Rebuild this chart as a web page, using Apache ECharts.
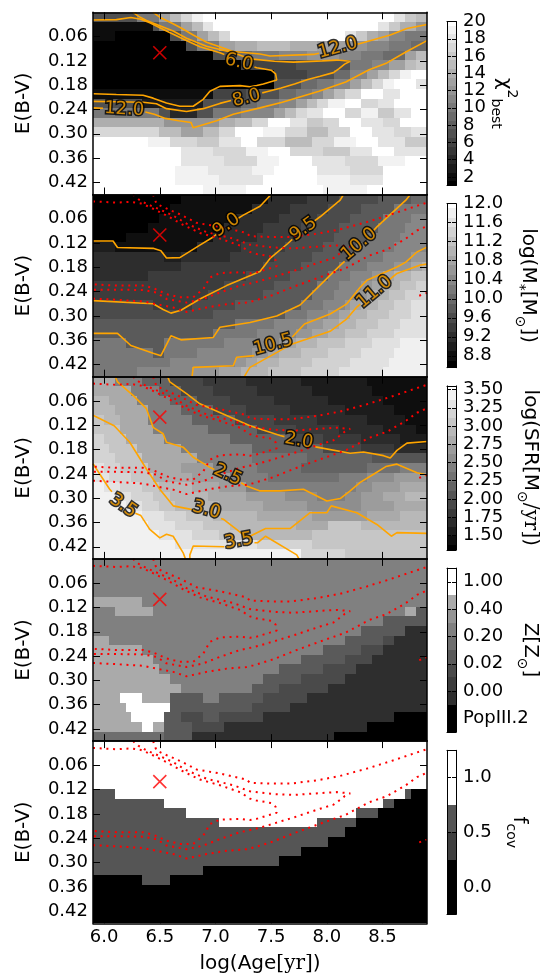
<!DOCTYPE html>
<html><head><meta charset="utf-8">
<script src="https://cdn.jsdelivr.net/npm/echarts@6/dist/echarts.min.js"></script>
<style>html,body{margin:0;padding:0;background:#fff;}#c{width:542px;height:977px;}</style>
</head><body><div id="c"></div>
<script>
// ---------------- data ----------------
const ageTicks = [6.0, 6.5, 7.0, 7.5, 8.0, 8.5];
const ebvTicks = [0.06, 0.12, 0.18, 0.24, 0.30, 0.36, 0.42];
const bestFit = [[6.5, 0.10]];

// chi^2 map: code a..t -> 1..20
const chiCodes = 'abcdefghijklmnopqrst';
const chiRows = [
"g8 j4 m2 o2 q2 s2 t35 r2 p2 o2",
"b11 g1 j4 m2 o2 r2 t30 r2 p2 n3 l2",
"b4 a10 g2 j3 m2 o2 q2 t21 r2 p2 n2 m2 k3 j4",
"a17 g2 j4 m3 n4 o6 n5 m6 l3 k4 j4 i3",
"a22 g3 i4 j5 k5 l6 k4 j4 i4 m2 o2",
"a27 f10 g10 j4 k3 m3 o2 p2",
"a33 f6 g5 i3 k3 m2 o2 q2 s2 t3",
"a33 g5 i3 j3 k3 m2 o2 q2 s2 t4 r2",
"b22 f6 g6 i3 j3 k2 m2 o2 q3 t4 r3 t5",
"g9 c11 g7 i3 j4 k3 m2 o2 q2 s3 t3 q3 r3 t6",
"j12 g2 d5 g3 j5 k6 m2 o2 q2 r3 t4 q3 s3 p3 r3 t3",
"n13 l10 n3 o3 q3 t4 r3 p3 q3 t4 r4 q3 t5",
"q12 o4 m4 o3 q3 t5 s4 q4 o4 q4 t4 r4 q3 r3",
"t10 s4 q5 p4 r4 t3 q5 o5 q4 s4 t4 r5 p4",
"t16 r6 q6 s4 t4 q6 p5 r4 t4 r6",
"t16 r8 q6 s4 t6 r6 q6 s5 t4",
"t15 s6 r8 s4 t8 r6 q6 t8",
"t15 s8 r8 t10 s6 r6 t8",
"t20 s8 t14 s8 t11"];

// log M*: code 0..h -> 8.6 + 0.2*i
const massCodes = '0123456789abcdefgh';
const massRows = [
"016 116 37 46 57 66 73",
"014 115 37 47 56 66 86",
"012 114 38 47 56 66 85 93",
"010 114 37 47 57 67 85 94",
"06 116 38 47 57 66 86 95",
"24 115 38 48 57 66 87 96",
"313 23 39 48 57 67 86 95 a3",
"316 415 57 67 85 95 a3 b2 c1",
"310 418 58 67 84 94 a2 b2 c3 d3",
"424 59 68 84 94 a2 b2 c3 d3 e2",
"421 510 69 84 94 a2 b1 c3 d3 e4",
"511 47 58 612 84 94 a1 b2 c3 d3 e3 f3",
"522 613 84 94 a2 b2 c3 d4 e4 f3",
"626 87 96 a3 b3 c3 d4 e4 f5",
"622 88 97 a3 b3 c3 d4 e5 f6",
"86 67 811 910 a1 b2 c4 d5 e5 f5 g5",
"811 62 86 910 a3 b2 c4 d5 e6 f6 g6",
"814 912 a2 b2 c4 d6 e7 f7 g7",
"88 910 a5 b4 c5 d6 e7 f8 g8"];

// log SFR: code 0..i -> 1.3 + 0.125*i
const sfrCodes = '0123456789abcdefghi';
const sfrRows = [
"c4 95 75 56 48 310 212 111",
"c7 95 74 56 48 310 211 110",
"d3 c5 96 75 56 48 310 210 18",
"d4 c6 96 76 56 48 310 29 16",
"e2 d3 c5 98 78 57 48 39 27 14",
"e5 c6 910 79 57 48 38 26 12",
"f2 e4 c7 912 711 56 47 37 25",
"f3 e5 c8 913 713 57 46 36",
"f4 e5 c10 910 810 712 610",
"g2 f3 e5 c6 b6 98 88 712 86 95",
"g3 f4 e4 c7 b7 97 813 95 a5 b6",
"h2 g3 f4 e3 d6 c5 b5 920 a3 b5 c5",
"h4 g3 f4 e3 d7 c7 b7 a6 95 a3 b4 c4 d4",
"h6 g3 f3 e3 d8 c8 b8 a10 b6 c6",
"h9 g4 f4 e5 d8 c10 b10 c6 d5",
"h10 g5 f5 e5 d12 c6 e6 d12",
"h12 g6 f5 e5 d12 e21",
"h15 g15 f10 e21",
"h38 f8 e15"];

// Z: code -> colour-bar sub-band index (0 = PopIII.2 ... 11 = 1.00)
const zCodeBand = {k:0, g:2, e:4, d:5, n:6, m:7, l:9, w:11};
const zBandColors = ['#000000','#000000','#2e2e2e','#3c3c3c','#4a4a4a','#5a5a5a','#6e6e6e','#808080','#949494','#aaaaaa','#ffffff','#ffffff'];
const zTickLabels = ['PopIII.2','0.00','0.02','0.20','0.40','1.00'];
const zRows = [
"m61","m61","m61","m61",
"l9 m52",
"m4 l7 m46 l2 d2",
"m53 d8",
"m49 d8 g4",
"l3 m43 d7 e2 g6",
"l9 m33 d7 e4 g8",
"l11 m27 d8 e5 g10",
"l12 m22 d8 e6 g13",
"l14 m17 d7 e8 g15",
"l16 m13 d5 e9 g18",
"l5 w4 l5 d6 m3 d8 e8 g22",
"l6 w8 d15 e7 g25",
"l7 w6 d3 e4 d3 e8 g24 k6",
"l9 w2 l2 d5 e6 g26 k11",
"n13 d5 g26 k17"];

// f_cov: 0 -> 0.0, 1 -> 0.5, 2 -> 1.0
const fcovCodeValue = {'0':0.0, '1':0.5, '2':1.0};
const fcovBands = [[-0.25,0.25,'#000000'],[0.25,0.5,'#3f3f3f'],[0.5,0.75,'#555555'],[0.75,1.25,'#ffffff']];
const fcovRows = [
"261","261","261","261","261",
"14 253 11 03",
"113 240 12 06",
"117 231 14 09",
"123 218 17 013",
"146 015",
"143 018",
"138 023",
"134 027",
"120 041",
"09 15 047",
"061","061","061","061"];

// chi^2 contours (red dotted overlays)
const redC12top = [[6.44,0.0],[6.47,0.023],[6.53,0.031],[6.69,0.050],[6.83,0.070],[7.04,0.080],[7.28,0.095],[7.31,0.103],[7.50,0.105],[7.67,0.105],[7.91,0.097],[8.12,0.086],[8.36,0.068],[8.57,0.050],[8.81,0.028],[8.90,0.020]];
const redC12bot = [[5.90,0.257],[6.11,0.260],[6.35,0.264],[6.47,0.271],[6.62,0.279],[6.74,0.290],[6.92,0.279],[7.10,0.271],[7.28,0.267],[7.34,0.263],[7.52,0.248],[7.70,0.228],[7.93,0.205],[8.17,0.182],[8.38,0.151],[8.54,0.136],[8.71,0.109],[8.81,0.089],[8.90,0.078]];
const redC8 = [[6.26,0.0],[6.31,0.012],[6.38,0.023],[6.50,0.037],[6.62,0.052],[6.74,0.072],[6.92,0.093],[7.16,0.109],[7.31,0.124],[7.53,0.131],[7.70,0.133],[7.96,0.128],[8.09,0.126],[8.21,0.129],[8.16,0.136],[8.11,0.147],[8.06,0.157],[7.94,0.167],[7.83,0.177],[7.71,0.188],[7.59,0.198],[7.46,0.209],[7.34,0.218],[7.22,0.225],[7.04,0.242],[6.89,0.258],[6.74,0.267],[6.56,0.258],[6.47,0.242],[6.35,0.236],[6.11,0.235],[5.90,0.235]];
const redC6 = [[5.90,0.017],[6.11,0.020],[6.24,0.018],[6.33,0.022],[6.41,0.031],[6.56,0.052],[6.71,0.075],[6.86,0.095],[7.04,0.109],[7.22,0.126],[7.31,0.142],[7.37,0.147],[7.44,0.150],[7.50,0.153],[7.54,0.162],[7.55,0.177],[7.49,0.182],[7.43,0.187],[7.37,0.192],[7.31,0.195],[7.22,0.192],[7.04,0.194],[6.95,0.205],[6.89,0.234],[6.80,0.254],[6.68,0.254],[6.56,0.246],[6.44,0.231],[6.35,0.225],[6.11,0.225],[5.90,0.222]];
const redEdge = [[8.83,0.250],[8.90,0.243]];

// panel 1 orange chi^2 contours (null = gap under a label)
const chiLines = [
 [[6.44,0.0],[6.50,0.012],[6.61,0.027],[6.70,0.040],[6.80,0.056],[6.92,0.074],[7.16,0.097],[7.40,0.103],[7.49,0.108],[7.88,0.104],[7.93,0.101],null,[8.27,0.079],[8.30,0.077],[8.57,0.056],[8.72,0.040],[8.90,0.030]],
 [[5.90,0.236],[5.99,0.237],null,[6.37,0.246],[6.45,0.252],[6.55,0.262],[6.67,0.268],[6.78,0.272],[6.80,0.285],[6.86,0.280],[7.01,0.268],[7.16,0.252],[7.40,0.236],[7.60,0.222],[7.93,0.195],[8.17,0.172],[8.38,0.142],[8.54,0.125],[8.71,0.098],[8.90,0.070]],
 [[6.26,0.0],[6.31,0.010],[6.38,0.020],[6.50,0.033],[6.62,0.046],[6.74,0.064],[6.92,0.084],[7.16,0.100],[7.31,0.115],[7.53,0.121],[7.70,0.123],[7.96,0.120],[8.09,0.118],[8.21,0.121],[8.16,0.128],[8.11,0.139],[8.06,0.149],[7.94,0.158],[7.83,0.166],[7.71,0.177],[7.59,0.187],[7.46,0.196],[7.42,0.199],null,[7.14,0.218],[7.04,0.225],[6.89,0.238],[6.74,0.245],[6.56,0.238],[6.47,0.226],[6.35,0.222],[6.11,0.221],[5.90,0.220]],
 [[5.90,0.019],[6.11,0.018],[6.24,0.013],[6.33,0.017],[6.41,0.026],[6.56,0.046],[6.71,0.066],[6.86,0.085],[7.04,0.100],[7.08,0.104],null,[7.35,0.135],[7.37,0.137],[7.44,0.140],[7.50,0.143],[7.54,0.152],[7.55,0.167],[7.49,0.172],[7.43,0.177],[7.37,0.181],[7.31,0.184],[7.22,0.181],[7.04,0.183],[6.95,0.195],[6.89,0.215],[6.80,0.232],[6.68,0.232],[6.56,0.224],[6.44,0.212],[6.35,0.205],[6.11,0.203],[5.90,0.201]]
];
const chiLabels = [[7.21,0.124,'6.0',-12],[7.28,0.212,'8.0',15],[6.18,0.240,'12.0',-3],[8.10,0.088,'12.0',15]];

// panel 2 orange mass contours
const massLines = [
 [[5.90,0.115],[6.08,0.115],[6.12,0.131],[6.44,0.133],[6.51,0.139],[6.56,0.157],[6.68,0.156],[6.86,0.125],[6.98,0.105],[7.01,0.098],null,[7.19,0.061],[7.25,0.051],[7.40,0.029],[7.50,0.0]],
 [[5.90,0.262],[6.44,0.270],[6.53,0.284],[6.60,0.293],[6.69,0.286],[6.86,0.258],[7.10,0.225],[7.40,0.190],[7.49,0.158],[7.65,0.121],[7.69,0.111],null,[7.89,0.065],[7.94,0.055],[8.12,0.014],[8.15,0.0]],
 [[5.90,0.343],[6.12,0.343],[6.24,0.373],[6.44,0.392],[6.51,0.398],[6.60,0.349],[6.69,0.359],[6.98,0.353],[7.04,0.328],[7.31,0.316],[7.55,0.300],[7.76,0.273],[7.91,0.232],[8.12,0.175],[8.16,0.165],null,[8.42,0.089],[8.45,0.080],[8.71,0.014],[8.75,0.0]],
 [[6.79,0.45],[6.80,0.427],[7.16,0.423],[7.19,0.402],[7.35,0.398],null,[7.69,0.352],[7.80,0.320],[8.03,0.295],[8.18,0.270],[8.30,0.229],[8.36,0.212],[8.63,0.179],[8.71,0.167],[8.81,0.142],[8.90,0.130]],
 [[7.26,0.45],[7.28,0.440],[7.31,0.427],[7.69,0.369],[8.03,0.338],[8.18,0.307],[8.27,0.278],[8.30,0.271],null,[8.56,0.211],[8.63,0.195],[8.84,0.174],[8.90,0.172]]
];
const massLabels = [[7.10,0.076,'9.0',35],[7.79,0.086,'9.5',35],[8.29,0.123,'10.0',40],[7.52,0.371,'10.5',15],[8.43,0.241,'11.0',40]];

// panel 3 orange SFR contours
const sfrLines = [
 [[6.57,0.0],[6.59,0.013],[6.74,0.042],[6.86,0.067],[7.10,0.096],[7.31,0.121],[7.58,0.145],[7.62,0.148],null,[7.89,0.172],[7.91,0.174],[8.21,0.189],[8.33,0.186],[8.51,0.195],[8.57,0.201],[8.63,0.182],[8.72,0.164],[8.90,0.160]],
 [[6.10,0.0],[6.12,0.013],[6.26,0.046],[6.38,0.079],[6.44,0.125],[6.53,0.141],[6.56,0.162],[6.71,0.174],[6.80,0.199],[6.95,0.224],[6.99,0.229],null,[7.23,0.262],[7.28,0.270],[7.40,0.282],[7.58,0.282],[7.79,0.278],[8.00,0.307],[8.12,0.301],[8.21,0.282],[8.30,0.261],[8.42,0.241],[8.53,0.222],[8.63,0.216],[8.81,0.237],[8.90,0.243]],
 [[5.90,0.095],[6.09,0.121],[6.23,0.162],[6.38,0.228],[6.50,0.278],[6.62,0.319],[6.77,0.327],[6.79,0.328],null,[7.05,0.350],[7.07,0.352],[7.25,0.390],[7.31,0.394],[7.45,0.375],[7.67,0.375],[7.85,0.336],[8.00,0.336],[8.04,0.319],[8.27,0.336],[8.45,0.365],[8.58,0.394],[8.63,0.385],[8.90,0.387]],
 [[5.90,0.215],[6.05,0.278],[6.07,0.284],null,[6.28,0.337],[6.33,0.343],[6.41,0.377],[6.50,0.398],[6.56,0.389],[6.62,0.394],[6.71,0.435],[6.73,0.45]],
 [[6.77,0.45],[6.77,0.440],[6.80,0.418],[7.08,0.420],null,[7.35,0.410],[7.38,0.410],[7.45,0.394],[7.73,0.440],[7.75,0.45]]
];
const sfrLabels = [[7.75,0.158,'2.0',-10],[7.11,0.243,'2.5',-25],[6.92,0.329,'3.0',-15],[6.17,0.319,'3.5',-35],[7.21,0.406,'3.5',10]];

// ---------------- layout / helpers ----------------
const AGE_MIN = 5.9, AGE_MAX = 8.9, EBV_MIN = 0, EBV_MAX = 0.45, NCOL = 61;
const FONT = 'DejaVu Sans';
const P_LEFT = 93, P_W = 334, P_TOP0 = 12.3, P_H = 182.2;
const pTop = i => P_TOP0 + P_H * i;
const CB_LEFT = 447, CB_W = 9, CB_H = 164, CB_OFF = 9.2;

function gray(t){ t = Math.max(0, Math.min(1, t)); const v = Math.round(t*255); const h = v.toString(16).padStart(2,'0'); return '#'+h+h+h; }
function decodeRows(rows){
  return rows.map(r => { let s=''; r.trim().split(/\s+/).forEach(t => { s += t[0].repeat(parseInt(t.slice(1),10)); });
    if (s.length < NCOL) s += s[s.length-1].repeat(NCOL - s.length); return s.slice(0, NCOL); });
}
function buildRuns(rows, colorOf){
  const g = decodeRows(rows), data = [], colors = [];
  const cw = (AGE_MAX-AGE_MIN)/NCOL, rh = (EBV_MAX-EBV_MIN)/g.length;
  g.forEach((s, j) => { let k = 0; while (k < s.length) { let e = k; while (e+1 < s.length && s[e+1] === s[k]) e++;
    data.push([AGE_MIN+k*cw, EBV_MIN+j*rh, AGE_MIN+(e+1)*cw, EBV_MIN+(j+1)*rh]); colors.push(colorOf(s[k])); k = e+1; } });
  return {data, colors};
}
function rectRender(colors){
  return function(params, api){
    const p0 = api.coord([api.value(0), api.value(1)]), p1 = api.coord([api.value(2), api.value(3)]);
    const x0 = Math.round(Math.min(p0[0],p1[0])), x1 = Math.round(Math.max(p0[0],p1[0]));
    const y0 = Math.round(Math.min(p0[1],p1[1])), y1 = Math.round(Math.max(p0[1],p1[1]));
    return {type:'rect', shape:{x:x0, y:y0, width:x1-x0, height:y1-y0}, style:{fill:colors[params.dataIndex]}};
  };
}
function splitSegs(pts){ const out = [[]]; pts.forEach(p => { if (p === null) out.push([]); else out[out.length-1].push(p); }); return out.filter(s => s.length > 1); }
const chiVal = c => chiCodes.indexOf(c)+1;
const chiColor = v => gray((v-1)/19);
const massVal = c => 8.6 + 0.2*massCodes.indexOf(c);
const massColor = v => gray((v-8.6)/3.4);
const sfrVal = c => 1.3 + 0.125*sfrCodes.indexOf(c);
const sfrColor = v => gray((v-1.3)/2.25);

const panels = [
  buildRuns(chiRows, c => chiColor(chiVal(c))),
  buildRuns(massRows, c => massColor(massVal(c))),
  buildRuns(sfrRows, c => sfrColor(sfrVal(c))),
  buildRuns(zRows, c => zBandColors[zCodeBand[c]]),
  buildRuns(fcovRows, c => { const v = fcovCodeValue[c]; const b = fcovBands.find(b => v >= b[0] && v < b[1]); return b[2]; })
];

const grids = [], xAxis = [], yAxis = [], series = [];
const axisLineStyle = {show:true, onZero:false, lineStyle:{color:'#000', width:1.5}};
for (let i = 0; i < 5; i++){
  grids.push({left:P_LEFT, top:pTop(i), width:P_W, height:P_H});
  ['bottom','top'].forEach(pos => xAxis.push({gridIndex:i, type:'value', min:AGE_MIN, max:AGE_MAX, position:pos, z:10,
    axisLine:axisLineStyle, splitLine:{show:false},
    axisTick:{show:true, inside:true, length:7, customValues:ageTicks, lineStyle:{color:'#000', width:1}},
    axisLabel:{show:(i===4 && pos==='bottom'), customValues:ageTicks, showMinLabel:true, showMaxLabel:true, hideOverlap:false,
      formatter:v=>Number(v).toFixed(1), fontSize:18, lineHeight:14, fontFamily:FONT, color:'#000', margin:7}}));
  ['left','right'].forEach(pos => yAxis.push({gridIndex:i, type:'value', min:EBV_MIN, max:EBV_MAX, inverse:true, position:pos, z:10,
    axisLine:axisLineStyle, splitLine:{show:false},
    axisTick:{show:true, inside:true, length:7, customValues:ebvTicks, lineStyle:{color:'#000', width:1}},
    axisLabel:{show:pos==='left', customValues:ebvTicks, showMinLabel:true, showMaxLabel:true, hideOverlap:false,
      formatter:v=>Number(v).toFixed(2), fontSize:18, lineHeight:14, fontFamily:FONT, color:'#000', margin:5}}));
  const P = panels[i];
  series.push({type:'custom', xAxisIndex:2*i, yAxisIndex:2*i, coordinateSystem:'cartesian2d', silent:true, z:1,
    dimensions:['x0','y0','x1','y1'], encode:{x:[0,2], y:[1,3]}, data:P.data, renderItem:rectRender(P.colors), clip:true});
}
function addLines(i, lines, style, z){
  lines.forEach(line => splitSegs(line).forEach(pts => series.push({type:'line', xAxisIndex:2*i, yAxisIndex:2*i, data:pts,
    showSymbol:false, symbol:'none', silent:true, z:z, lineStyle:style, clip:true})));
}
function addLabels(i, labels){
  series.push({type:'scatter', xAxisIndex:2*i, yAxisIndex:2*i, silent:true, z:8, symbolSize:1, itemStyle:{color:'rgba(0,0,0,0)'},
    data:labels.map(l => ({value:[l[0], l[1]], label:{show:true, formatter:l[2], rotate:l[3]}})),
    label:{show:true, position:'inside', color:'#ffa500', fontSize:18, fontFamily:FONT, textBorderColor:'#000', textBorderWidth:3}});
}
const orange = {color:'#ffa500', width:1.6, type:'solid'};
const redDot = {color:'#ff0000', width:2, type:[2,4.7]};
addLines(0, chiLines, orange, 5); addLabels(0, chiLabels);
addLines(1, massLines, orange, 5); addLabels(1, massLabels);
addLines(2, sfrLines, orange, 5); addLabels(2, sfrLabels);
for (let i = 1; i < 5; i++) addLines(i, [redC12top, redC12bot, redC8, redC6, redEdge], redDot, 6);
for (let i = 0; i < 5; i++) series.push({type:'scatter', xAxisIndex:2*i, yAxisIndex:2*i, silent:true, z:9, data:bestFit,
  symbol:'path://M0,0L10,10M10,0L0,10', symbolSize:13, itemStyle:{color:'none', borderColor:'#ff0000', borderWidth:1.6}});

// ---------------- colour bars ----------------
const cbSpecs = [
  {min:1, max:20, ticks:[2,4,6,8,10,12,14,16,18,20], fmt:v=>String(Math.round(v)),
   bands: chiCodes.split('').map(c => { const v = chiVal(c); return [Math.max(1,v-0.5), Math.min(20,v+0.5), chiColor(v)]; })},
  {min:8.55, max:12.0, ticks:[8.8,9.2,9.6,10.0,10.4,10.8,11.2,11.6,12.0], fmt:v=>Number(v).toFixed(1),
   bands: massCodes.split('').map(c => { const v = massVal(c); return [Math.max(8.55,v-0.1), Math.min(12.0,v+0.1), massColor(v)]; })},
  {min:1.3, max:3.55, ticks:[1.5,1.75,2.0,2.25,2.5,2.75,3.0,3.25,3.5], fmt:v=>Number(v).toFixed(2),
   bands: sfrCodes.split('').map(c => { const v = sfrVal(c); return [Math.max(1.3,v-0.0625), Math.min(3.55,v+0.0625), sfrColor(v)]; })},
  {min:0, max:12, ticks:[1,3,5,7,9,11], fmt:v=>zTickLabels[Math.round((v-1)/2)] || '',
   bands: zBandColors.map((c, k) => [k, k+1, c])},
  {min:-0.25, max:1.25, ticks:[0,0.5,1.0], fmt:v=>Number(v).toFixed(1), bands: fcovBands}
];
cbSpecs.forEach((cb, c) => {
  const gi = 5 + c;
  grids.push({left:CB_LEFT, top:pTop(c)+CB_OFF, width:CB_W, height:CB_H});
  ['bottom','top'].forEach(pos => xAxis.push({gridIndex:gi, type:'value', min:0, max:1, position:pos, z:10,
    axisLine:{show:true, onZero:false, lineStyle:{color:'#000', width:1}}, axisTick:{show:false}, axisLabel:{show:false}, splitLine:{show:false}}));
  // left edge: ticks only
  yAxis.push({gridIndex:gi, type:'value', min:cb.min, max:cb.max, position:'left', z:10,
    axisLine:{show:true, onZero:false, lineStyle:{color:'#000', width:1}}, splitLine:{show:false},
    axisTick:{show:true, inside:true, length:4, customValues:cb.ticks, lineStyle:{color:'#000', width:1}}, axisLabel:{show:false}});
  // right edge: labels split over two axes so that ECharts does not drop crowded ones
  [0, 1].forEach(par => {
    const vals = cb.ticks.filter((v, k) => k % 2 === par);
    yAxis.push({gridIndex:gi, type:'value', min:cb.min, max:cb.max, position:'right', offset:0, z:10,
      axisLine:{show:par===0, onZero:false, lineStyle:{color:'#000', width:1}}, splitLine:{show:false},
      axisTick:{show:true, inside:true, length:4, customValues:vals, lineStyle:{color:'#000', width:1}},
      axisLabel:{show:true, customValues:vals, showMinLabel:true, showMaxLabel:true, hideOverlap:false,
        formatter:cb.fmt, fontSize:18, fontFamily:FONT, color:'#000', margin:7}});
  });
  const colors = cb.bands.map(b => b[2]);
  series.push({type:'custom', xAxisIndex:10+2*c, yAxisIndex:10+3*c, coordinateSystem:'cartesian2d', silent:true, z:1,
    dimensions:['x0','y0','x1','y1'], encode:{x:[0,2], y:[1,3]}, data:cb.bands.map(b => [0, b[0], 1, b[1]]), renderItem:rectRender(colors)});
});

// ---------------- texts ----------------
const graphic = [];
for (let i = 0; i < 5; i++) graphic.push({type:'text', x:24, y:pTop(i)+P_H/2, rotation:Math.PI/2,
  style:{text:'E(B-V)', fontSize:20, fontFamily:FONT, fill:'#000', textAlign:'center', textVerticalAlign:'middle'}});
graphic.push({type:'text', x:260, y:964, style:{text:'log(Age{s|[yr]})', fontSize:20, fontFamily:FONT, fill:'#000', textAlign:'center', textVerticalAlign:'middle',
  rich:{s:{fontSize:20, fontFamily:'DejaVu Serif'}}}});
const subSup = {
  m:{fontSize:20, fontFamily:FONT, lineHeight:30},
  sub:{fontSize:14, fontFamily:FONT, lineHeight:14, verticalAlign:'bottom'},
  sup:{fontSize:14, fontFamily:FONT, lineHeight:14, verticalAlign:'top'},
  ser:{fontSize:20, fontFamily:'DejaVu Serif', lineHeight:30}
};
const cbTitles = [
  [504, '{m|χ}{sup|2}{sub|best}'],
  [528, '{m|log(M}{sub|*}{m|[M}{sub|⊙}{m|])}'],
  [530, '{m|log(SFR[M}{sub|⊙}{ser|/yr]}{m|)}'],
  [530, '{m|Z[Z}{sub|⊙}{m|]}'],
  [519, '{m|f}{sub|cov}']
];
cbTitles.forEach((t, i) => graphic.push({type:'text', x:t[0], y:pTop(i)+P_H/2, rotation:-Math.PI/2,
  style:{text:t[1], rich:subSup, fontSize:20, fontFamily:FONT, fill:'#000', textAlign:'center', textVerticalAlign:'middle'}}));

const chart = echarts.init(document.getElementById('c'), null, {renderer:'canvas'});
chart.setOption({animation:false, backgroundColor:'#ffffff', textStyle:{fontFamily:FONT},
  grid:grids, xAxis:xAxis, yAxis:yAxis, series:series, graphic:graphic});
</script></body></html>
